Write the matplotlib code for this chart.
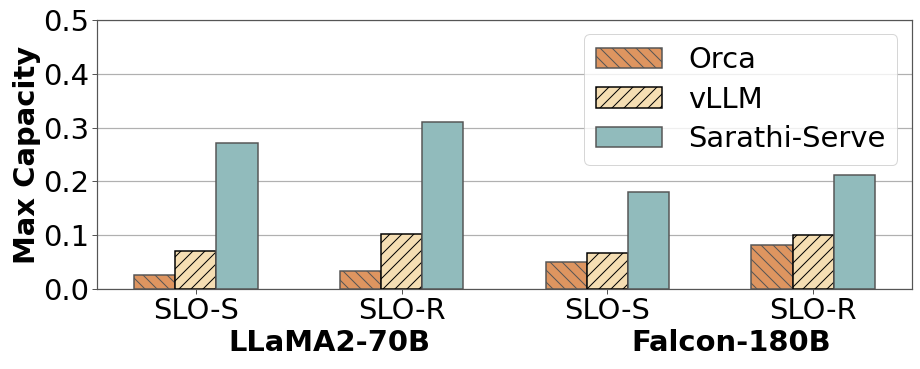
import numpy as np
from matplotlib import pyplot as plt

# данные
scenarios = ["SLO-S", "SLO-R", "SLO-S", "SLO-R"]
models = ["LLaMA2-70B", "Falcon-180B"]
model_pos = [0.65, 2.6]
orca = [0.026, 0.034, 0.051, 0.081]
vllm = [0.071, 0.103, 0.067, 0.101]
sarathi = [0.272, 0.310, 0.180, 0.211]

DPI = 72
plt.rc("font", family="DejaVu Sans", size=29)

fig = plt.figure(figsize=(920 / DPI, 369 / DPI), dpi=DPI)
ax = fig.add_axes([0.1054, 0.2168, 0.8859, 0.729])

x = np.arange(len(scenarios))
w = 0.2
ax.bar(x - w, orca, w, color="#de9560", edgecolor="#555555", hatch="\\\\",
       linewidth=1.5, label="Orca", zorder=3)
ax.bar(x, vllm, w, color="#f5deb3", edgecolor="black", hatch="//",
       linewidth=1.5, label="vLLM", zorder=3)
ax.bar(x + w, sarathi, w, color="#91bbbc", edgecolor="#555555",
       linewidth=1.5, label="Sarathi-Serve", zorder=3)

ax.set_ylim(0, 0.5)
ax.set_yticks(np.arange(0, 0.51, 0.1))
ax.set_xticks(x)
ax.set_xticklabels(scenarios)
ax.yaxis.grid(True, color="#b0b0b0", linewidth=1.2, zorder=0)
ax.set_axisbelow(True)
for s in ax.spines.values():
    s.set_color("#555555")
    s.set_linewidth(1.2)
ax.tick_params(colors="black", length=5, width=1.0, pad=3)
ax.tick_params(axis="both", color="#555555")
ax.set_ylabel("Max Capacity", fontweight="bold", labelpad=2)

for m, p in zip(models, model_pos):
    ax.text(p, -0.2, m, transform=ax.get_xaxis_transform(),
            ha="center", va="center", fontweight="bold")

ax.legend(loc="upper right", handlelength=2.3, handletextpad=0.9,
          borderaxespad=0.5, labelspacing=0.4)

fig.savefig("out.png", dpi=DPI)
